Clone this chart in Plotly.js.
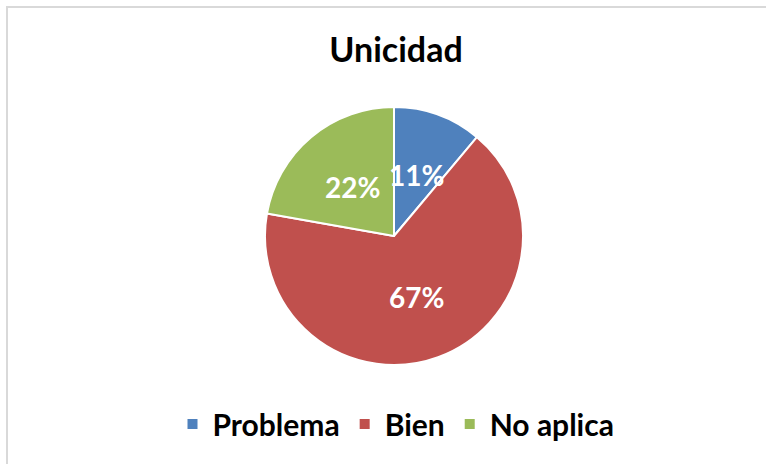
<!DOCTYPE html>
<html>
<head>
<meta charset="utf-8">
<script src="https://cdn.plot.ly/plotly-3.0.1.min.js"></script>
<style>
  html, body { margin: 0; padding: 0; overflow: hidden; background: #fff; }
  #chart { width: 766px; height: 464px; }
  #frame { position: absolute; left: 6px; top: 6px; width: 800px; height: 500px;
           border: 2px solid #d9d9d9; pointer-events: none; }
</style>
</head>
<body>
<div id="chart"></div>
<div id="frame"></div>
<script>
// Data
const categories = ["Problema", "Bien", "No aplica"];
const counts = [1, 6, 2];
const colors = ["#4F81BD", "#C0504D", "#9BBB59"];
const chartTitle = "Unicidad";

const W = 766, H = 464;
const cx = 394, cy = 236, R = 129;
const font = "Lato, 'Open Sans', sans-serif";

const trace = {
  type: "pie",
  labels: categories,
  values: counts,
  sort: false,
  direction: "clockwise",
  rotation: 0,
  marker: { colors: colors, line: { color: "#ffffff", width: 2 } },
  textinfo: "none",
  textposition: "none",
  hoverinfo: "label+percent",
  domain: { x: [(cx - R) / W, (cx + R) / W], y: [1 - (cy + R) / H, 1 - (cy - R) / H] }
};

// Data labels placed at half radius on each slice's mid angle (derived from the data)
const total = counts.reduce((a, b) => a + b, 0);
let cum = 0;
const annotations = counts.map((v) => {
  const frac = v / total;
  const mid = (cum + frac / 2) * 2 * Math.PI;
  cum += frac;
  const r = 0.5 * R;
  return {
    xref: "paper", yref: "paper",
    x: (cx + r * Math.sin(mid)) / W,
    y: 1 - (cy - r * Math.cos(mid)) / H,
    text: "<b>" + Math.round(frac * 100) + "%</b>",
    showarrow: false,
    xanchor: "center", yanchor: "middle",
    font: { family: font, size: 28, color: "#ffffff" }
  };
});

const layout = {
  width: W,
  height: H,
  margin: { l: 0, r: 0, t: 0, b: 0 },
  paper_bgcolor: "#ffffff",
  title: {
    text: "<b>" + chartTitle + "</b>",
    font: { family: font, size: 34, color: "#000000" },
    x: 396 / W, xanchor: "center",
    y: 1 - 50 / H, yanchor: "middle"
  },
  annotations: annotations,
  showlegend: true,
  legend: {
    orientation: "h",
    x: 396 / W, xanchor: "center",
    y: 1 - 424 / H, yanchor: "middle",
    font: { family: font, size: 30, color: "#000000", weight: 700 },
    traceorder: "normal"
  }
};

Plotly.newPlot("chart", [trace], layout, { displayModeBar: false, staticPlot: true });
</script>
</body>
</html>
